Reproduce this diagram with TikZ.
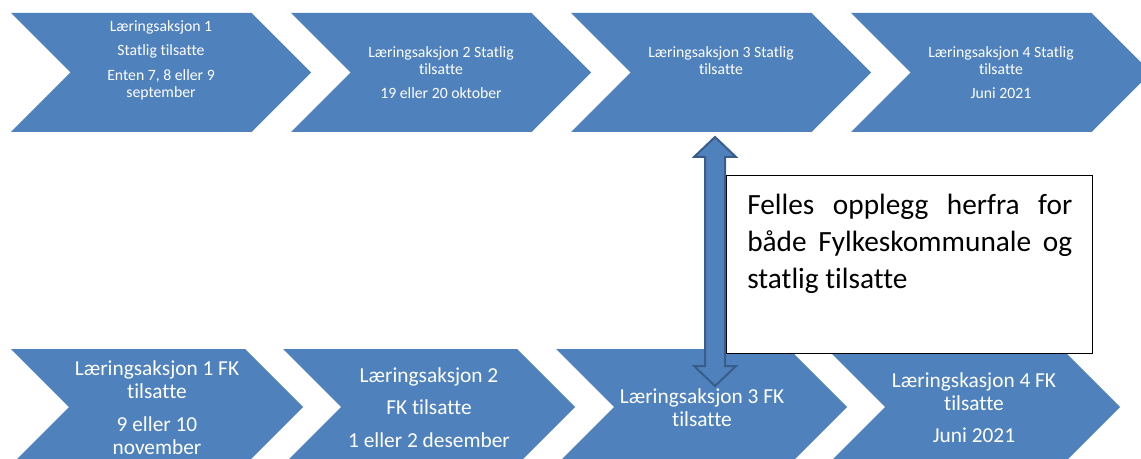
\documentclass[tikz,border=0pt]{standalone}
\usepackage{fontspec}
\setmainfont{Carlito}[Ligatures=NoCommon]
\usepackage{tikz}
\usetikzlibrary{calc}

\definecolor{chevblue}{RGB}{79,129,189}
\definecolor{arrowedge}{RGB}{56,93,138}

\tikzset{
  chev/.style={fill=chevblue, draw=none},
  toptxt/.style={text=white, align=center, inner sep=0.75pt, font=\fontsize{11.8}{12.75}\selectfont},
  bottxt/.style={text=white, align=center, inner sep=0.75pt, font=\fontsize{16}{17.25}\selectfont},
  dblarrow/.style={fill=chevblue, draw=arrowedge, line width=1.5pt, line join=miter}
}

\begin{document}
\begin{tikzpicture}[x=0.75pt,y=0.75pt,yscale=-1,xscale=1]
\useasboundingbox (0,0) rectangle (1141,459);

%Shape: Chevron top row
\draw [chev] (11,13) -- (251.5,13) -- (311,72.5) -- (251.5,132) -- (11,132) -- (70.5,72.5) -- cycle ;
\draw [chev] (291,13) -- (531.5,13) -- (591,72.5) -- (531.5,132) -- (291,132) -- (350.5,72.5) -- cycle ;
\draw [chev] (571,13) -- (811.5,13) -- (871,72.5) -- (811.5,132) -- (571,132) -- (630.5,72.5) -- cycle ;
\draw [chev] (851,13) -- (1091.5,13) -- (1151,72.5) -- (1091.5,132) -- (851,132) -- (910.5,72.5) -- cycle ;

%Shape: Chevron bottom row
\draw [chev] (11,349) -- (245,349) -- (303,407) -- (245,465) -- (11,465) -- (69,407) -- cycle ;
\draw [chev] (283,349) -- (517,349) -- (575,407) -- (517,465) -- (283,465) -- (341,407) -- cycle ;
\draw [chev] (556,349) -- (789,349) -- (847,407) -- (789,465) -- (556,465) -- (614,407) -- cycle ;
\draw [chev] (827,349) -- (1062,349) -- (1120,407) -- (1062,465) -- (827,465) -- (885,407) -- cycle ;

% Text Node
\node [toptxt] (t1) at (161,60) {Læringsaksjon 1\\[5.6pt]Statlig tilsatte\\[5.6pt]Enten 7, 8 eller 9\\september};
% Text Node
\node [toptxt] (t2) at (441,72.5) {Læringsaksjon 2 Statlig\\tilsatte\\[5.6pt]19 eller 20 oktober};
% Text Node
\node [toptxt] (t3) at (721,60.5) {Læringsaksjon 3 Statlig\\tilsatte};
% Text Node
\node [toptxt] (t4) at (1001,72.5) {Læringsaksjon 4 Statlig\\tilsatte\\[5.6pt]Juni 2021};

% Text Node
\node [bottxt] (b1) at (157,407.5) {Læringsaksjon 1 FK\\tilsatte\\[7pt]9 eller 10\\november};
% Text Node
\node [bottxt] (b2) at (429,407.5) {Læringsaksjon 2\\[7pt]FK tilsatte\\[7pt]1 eller 2 desember};
% Text Node
\node [bottxt] (b3) at (702,408) {Læringsaksjon 3 FK\\tilsatte};
% Text Node
\node [bottxt] (b4) at (974,408) {Læringskasjon 4 FK\\tilsatte\\[7pt]Juni 2021};

%Shape: Rectangle
\draw [fill=white, draw=black, line width=0.75pt] (726,176) rectangle (1092,353) ;
% Text Node
\node [anchor=north west, inner sep=0pt, text width=243.75pt, align=justify,
       font={\fontsize{22}{27.75}\selectfont}] (note) at (747,194)
  {\tolerance=10000 \hyphenpenalty=10000 Felles opplegg herfra for både Fylkeskommunale og statlig tilsatte};

%Double arrow
\coordinate (arrtop) at (715,137);
\coordinate (arrbot) at (715,386);
\draw [dblarrow] (arrtop) -- ++(21,20) -- ++(-11,0) -- ($(arrbot)+(10,-20)$) -- ++(11,0) -- (arrbot)
  -- ++(-21,-20) -- ++(11,0) -- ($(arrtop)+(-10,20)$) -- ++(-11,0) -- cycle ;

\end{tikzpicture}
\end{document}
